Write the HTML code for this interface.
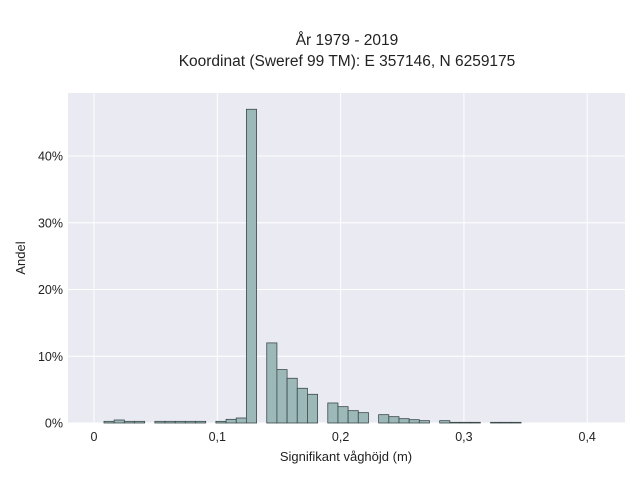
<!DOCTYPE html>
<html><head><meta charset="utf-8"><style>
body{margin:0;background:#fff;}
svg text{font-family:"Liberation Sans",sans-serif;fill:#222;}
</style></head><body>
<svg id="chart" width="640" height="480" xmlns="http://www.w3.org/2000/svg">
<text x="347" y="45" font-size="15.5" text-anchor="middle">År 1979 - 2019</text>
<text x="347" y="66" font-size="15.5" text-anchor="middle">Koordinat (Sweref 99 TM): E 357146, N 6259175</text>
<rect x="68" y="93" width="557" height="330" fill="#eaeaf2"/>
<g id="grid"></g><g id="bars"></g><g id="ticks"></g>
<text x="346" y="461" font-size="13" text-anchor="middle">Signifikant våghöjd (m)</text>
<text x="25" y="258" font-size="13" text-anchor="middle" transform="rotate(-90 25 258)">Andel</text>
</svg>
<script>
const binStart = 0.0081;
const binWidth = 0.00825;
const binValues = [0.25,0.45,0.25,0.25,0,0.25,0.25,0.25,0.25,0.25,0,0.25,0.55,0.75,47,0,12,8,6.7,5.2,4.3,0,3.0,2.45,1.85,1.55,0,1.25,0.95,0.65,0.5,0.35,0,0.35,0.1,0.1,0.1,0,0.1,0.1,0.1];
const xTicks = [0,0.1,0.2,0.3,0.4];
const xTickLabels = ["0","0,1","0,2","0,3","0,4"];
const yTicks = [0,10,20,30,40];
const yTickLabels = ["0%","10%","20%","30%","40%"];
const NS="http://www.w3.org/2000/svg";
const x = v => 94 + v*1233;
const y = v => 423 - v*6.675;
const grid=document.getElementById('grid'), bars=document.getElementById('bars'), ticks=document.getElementById('ticks');
function mk(tag,attrs,parent){const e=document.createElementNS(NS,tag);for(const k in attrs)e.setAttribute(k,attrs[k]);parent.appendChild(e);return e;}
xTicks.forEach((t,i)=>{
  const l=mk('line',{x1:x(t),x2:x(t),y1:93,y2:423,stroke:'#fff','stroke-width':1},grid);
  
  
  const tx=mk('text',{x:x(t),y:441,'font-size':12.5,'text-anchor':'middle'},ticks);
  tx.textContent=xTickLabels[i];
  
  
});
yTicks.forEach((t,i)=>{
  const l=mk('line',{x1:68,x2:625,y1:y(t),y2:y(t),stroke:'#fff','stroke-width':1},grid);
  
  
  const tx=mk('text',{x:63,y:y(t)+4.5,'font-size':12.5,'text-anchor':'end'},ticks);
  tx.textContent=yTickLabels[i];
  
  
});
binValues.forEach((v,i)=>{
  if(v<=0)return;
  const x0=x(binStart+i*binWidth), x1=x(binStart+(i+1)*binWidth);
  const r=mk('rect',{x:x0,y:y(v),width:x1-x0,height:423-y(v),fill:'#9db8b8',stroke:'#3a4a4a','stroke-width':0.8},bars);
  
  
});
</script>
</body></html>
